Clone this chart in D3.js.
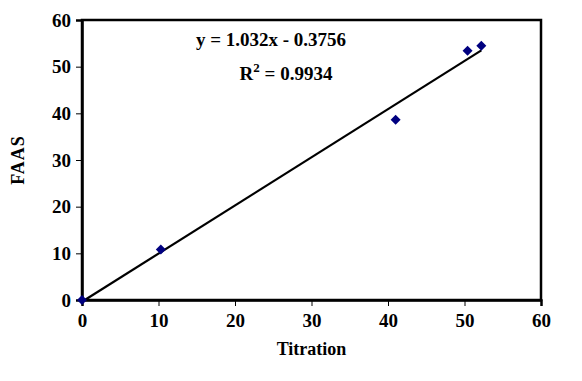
<!DOCTYPE html>
<html>
<head>
<meta charset="utf-8">
<script src="https://cdn.jsdelivr.net/npm/d3@7"></script>
<style>
  body { margin: 0; background: #fff; }
  text { font-family: 'Liberation Serif', 'Times New Roman', serif; font-weight: bold; }
</style>
</head>
<body>
<div id="chart"></div>
<script>
// data
const titration = [0, 10.3, 41, 50.4, 52.2]
const faas = [0, 10.8, 38.6, 53.4, 54.5]
const xTicks = [0, 10, 20, 30, 40, 50, 60]
const yTicks = [0, 10, 20, 30, 40, 50, 60]
const slope = 1.032
const intercept = -0.3756
const eqLabel = 'y = 1.032x - 0.3756'
const r2Value = '0.9934'

const width = 582
const height = 381
const margin = { top: 20, right: 41, bottom: 81, left: 82 }

const svg = d3
  .select('#chart')
  .append('svg')
  .attr('width', width)
  .attr('height', height)

const x = d3.scaleLinear().domain([0, 60]).range([margin.left, width - margin.right])
const y = d3.scaleLinear().domain([0, 60]).range([height - margin.bottom, margin.top])

// plot frame
svg
  .append('rect')
  .attr('x', x(0))
  .attr('y', y(60))
  .attr('width', x(60) - x(0))
  .attr('height', y(0) - y(60))
  .attr('fill', 'none')
  .attr('stroke', '#000')
  .attr('stroke-width', 2.5)

const xAxis = svg
  .append('g')
  .attr('transform', `translate(0,${y(0)})`)
  .call(d3.axisBottom(x).tickValues(xTicks).tickSize(6).tickPadding(8))
const yAxis = svg
  .append('g')
  .attr('transform', `translate(${x(0)},0)`)
  .call(d3.axisLeft(y).tickValues(yTicks).tickSize(6).tickPadding(5))

;[xAxis, yAxis].forEach((g) => {
  g.select('.domain').attr('stroke-width', 2.5)
  g.selectAll('.tick line').attr('stroke-width', 1)
  g.selectAll('.tick text').attr('font-size', 19).attr('fill', '#000')
})

// axis titles
svg
  .append('text')
  .attr('x', (x(0) + x(60)) / 2)
  .attr('y', 355)
  .attr('text-anchor', 'middle')
  .attr('font-size', 18)
  .text('Titration')

svg
  .append('text')
  .attr('transform', `translate(24,${(y(0) + y(60)) / 2}) rotate(-90)`)
  .attr('text-anchor', 'middle')
  .attr('font-size', 18)
  .attr('letter-spacing', 1)
  .text('FAAS')

// trend line
const xMax = d3.max(titration)
svg
  .append('line')
  .attr('x1', x(0))
  .attr('y1', y(intercept))
  .attr('x2', x(xMax))
  .attr('y2', y(slope * xMax + intercept))
  .attr('stroke', '#000')
  .attr('stroke-width', 2.2)

// points
const pts = titration.map((d, i) => ({ x: d, y: faas[i] }))
svg
  .append('g')
  .selectAll('path')
  .data(pts)
  .enter()
  .append('path')
  .attr('d', 'M0,-5L5,0L0,5L-5,0Z')
  .attr('transform', (d) => `translate(${x(d.x)},${y(d.y)})`)
  .attr('fill', '#000080')

// equation
svg
  .append('text')
  .attr('x', 271)
  .attr('y', 46)
  .attr('text-anchor', 'middle')
  .attr('font-size', 19)
  .text(eqLabel)

const r2 = svg
  .append('text')
  .attr('x', 286)
  .attr('y', 80)
  .attr('text-anchor', 'middle')
  .attr('font-size', 19)
r2.append('tspan').text('R')
r2.append('tspan').attr('dy', -8).attr('font-size', 13).text('2')
r2.append('tspan').attr('dy', 8).text(' = ' + r2Value)
</script>
</body>
</html>
